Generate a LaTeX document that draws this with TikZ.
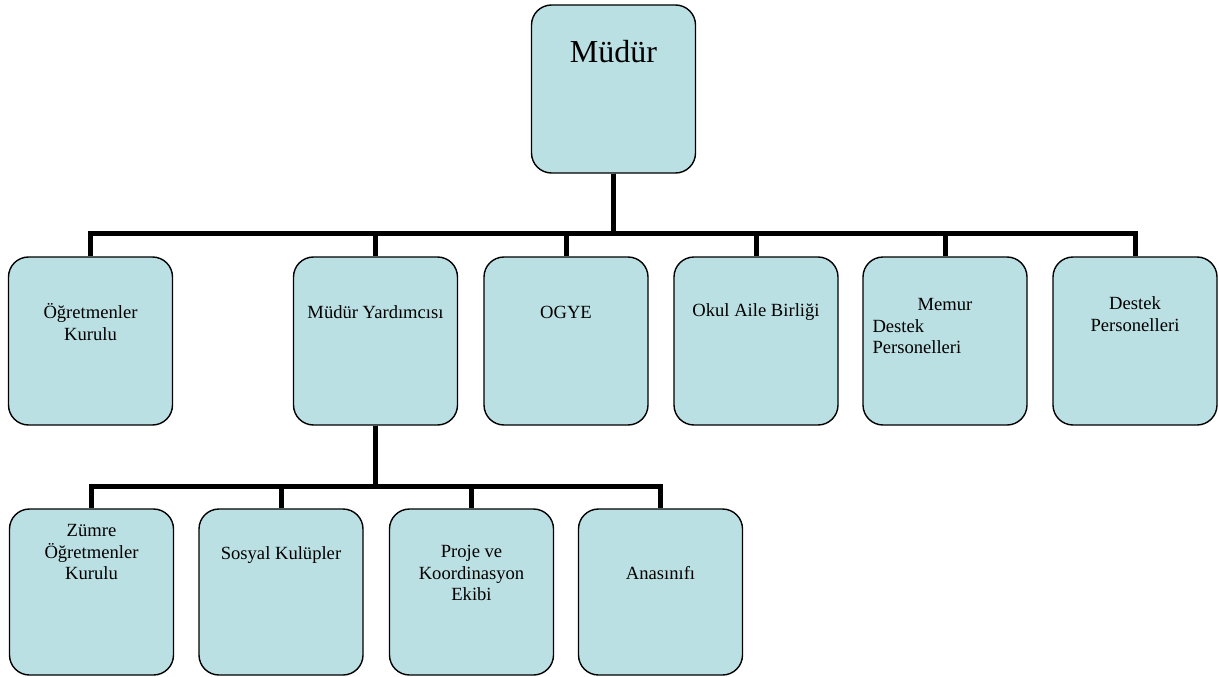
\documentclass[tikz,border=0pt]{standalone}
\usepackage{fontspec}
\setmainfont{Liberation Serif}
\usetikzlibrary{positioning}
\definecolor{boxfill}{HTML}{BBE0E3}
\tikzset{
	unit/.style={draw=black, line width=1.4pt, fill=boxfill, rounded corners=20pt,
		minimum width=164pt, minimum height=168pt, inner sep=0pt},
	link/.style={line width=5pt},
	lbl/.style={font=\fontsize{18.6}{21.8}\selectfont, align=center, inner sep=0pt},
}

\begin{document}
\begin{tikzpicture}[x=1pt, y=-1pt]
				\useasboundingbox (0,0) rectangle (1219,677);
				% Boxes:
				\node[unit] (mudur) at (613.5, 89){};
				\node[unit] (ogr) at (90.5, 341){};
				\node[unit] (yard) at (375.5, 341){};
				\node[unit] (ogye) at (566, 341){};
				\node[unit] (aile) at (756, 341){};
				\node[unit] (memur) at (945, 341){};
				\node[unit] (destek) at (1135, 341){};
				\node[unit, minimum height=166pt] (zumre) at (91.5, 592){};
				\node[unit, minimum height=166pt] (sosyal) at (281, 592){};
				\node[unit, minimum height=166pt] (proje) at (471.5, 592){};
				\node[unit, minimum height=166pt] (anasinifi) at (660.5, 592){};
				% Texts:
				\node[lbl, font=\fontsize{32}{38}\selectfont] (mudur-t) at (613.5, 52){Müdür};
				\node[lbl] (ogr-t) at (90.5, 322){Öğretmenler\\Kurulu};
				\node[lbl] (yard-t) at (375.5, 312){Müdür Yardımcısı};
				\node[lbl] (ogye-t) at (566, 312){OGYE};
				\node[lbl] (aile-t) at (756, 312){Okul Aile Birliği};
				\node[lbl] (memur-t) at (945, 326){\makebox[145pt]{Memur}\\\makebox[145pt][l]{Destek}\\\makebox[145pt][l]{Personelleri}};
				\node[lbl] (destek-t) at (1135, 314){Destek\\Personelleri};
				\node[lbl] (zumre-t) at (91.5, 552){Zümre\\Öğretmenler\\Kurulu};
				\node[lbl] (sosyal-t) at (281, 555){Sosyal Kulüpler};
				\node[lbl] (proje-t) at (471.5, 573){Proje ve\\Koordinasyon\\Ekibi};
				\node[lbl] (anasinifi-t) at (660.5, 573){Anasınıfı};
				% Wires:
				\coordinate (bus1) at (613.5, 233);
				\coordinate (bus2) at (375.5, 486);
				\foreach \child in {ogr, yard, ogye, aile, memur, destek}
					\draw[link] (mudur.south) -- (bus1) -| (\child.north);
				\foreach \child in {zumre, sosyal, proje, anasinifi}
					\draw[link] (yard.south) -- (bus2) -| (\child.north);
			\end{tikzpicture}
\end{document}
